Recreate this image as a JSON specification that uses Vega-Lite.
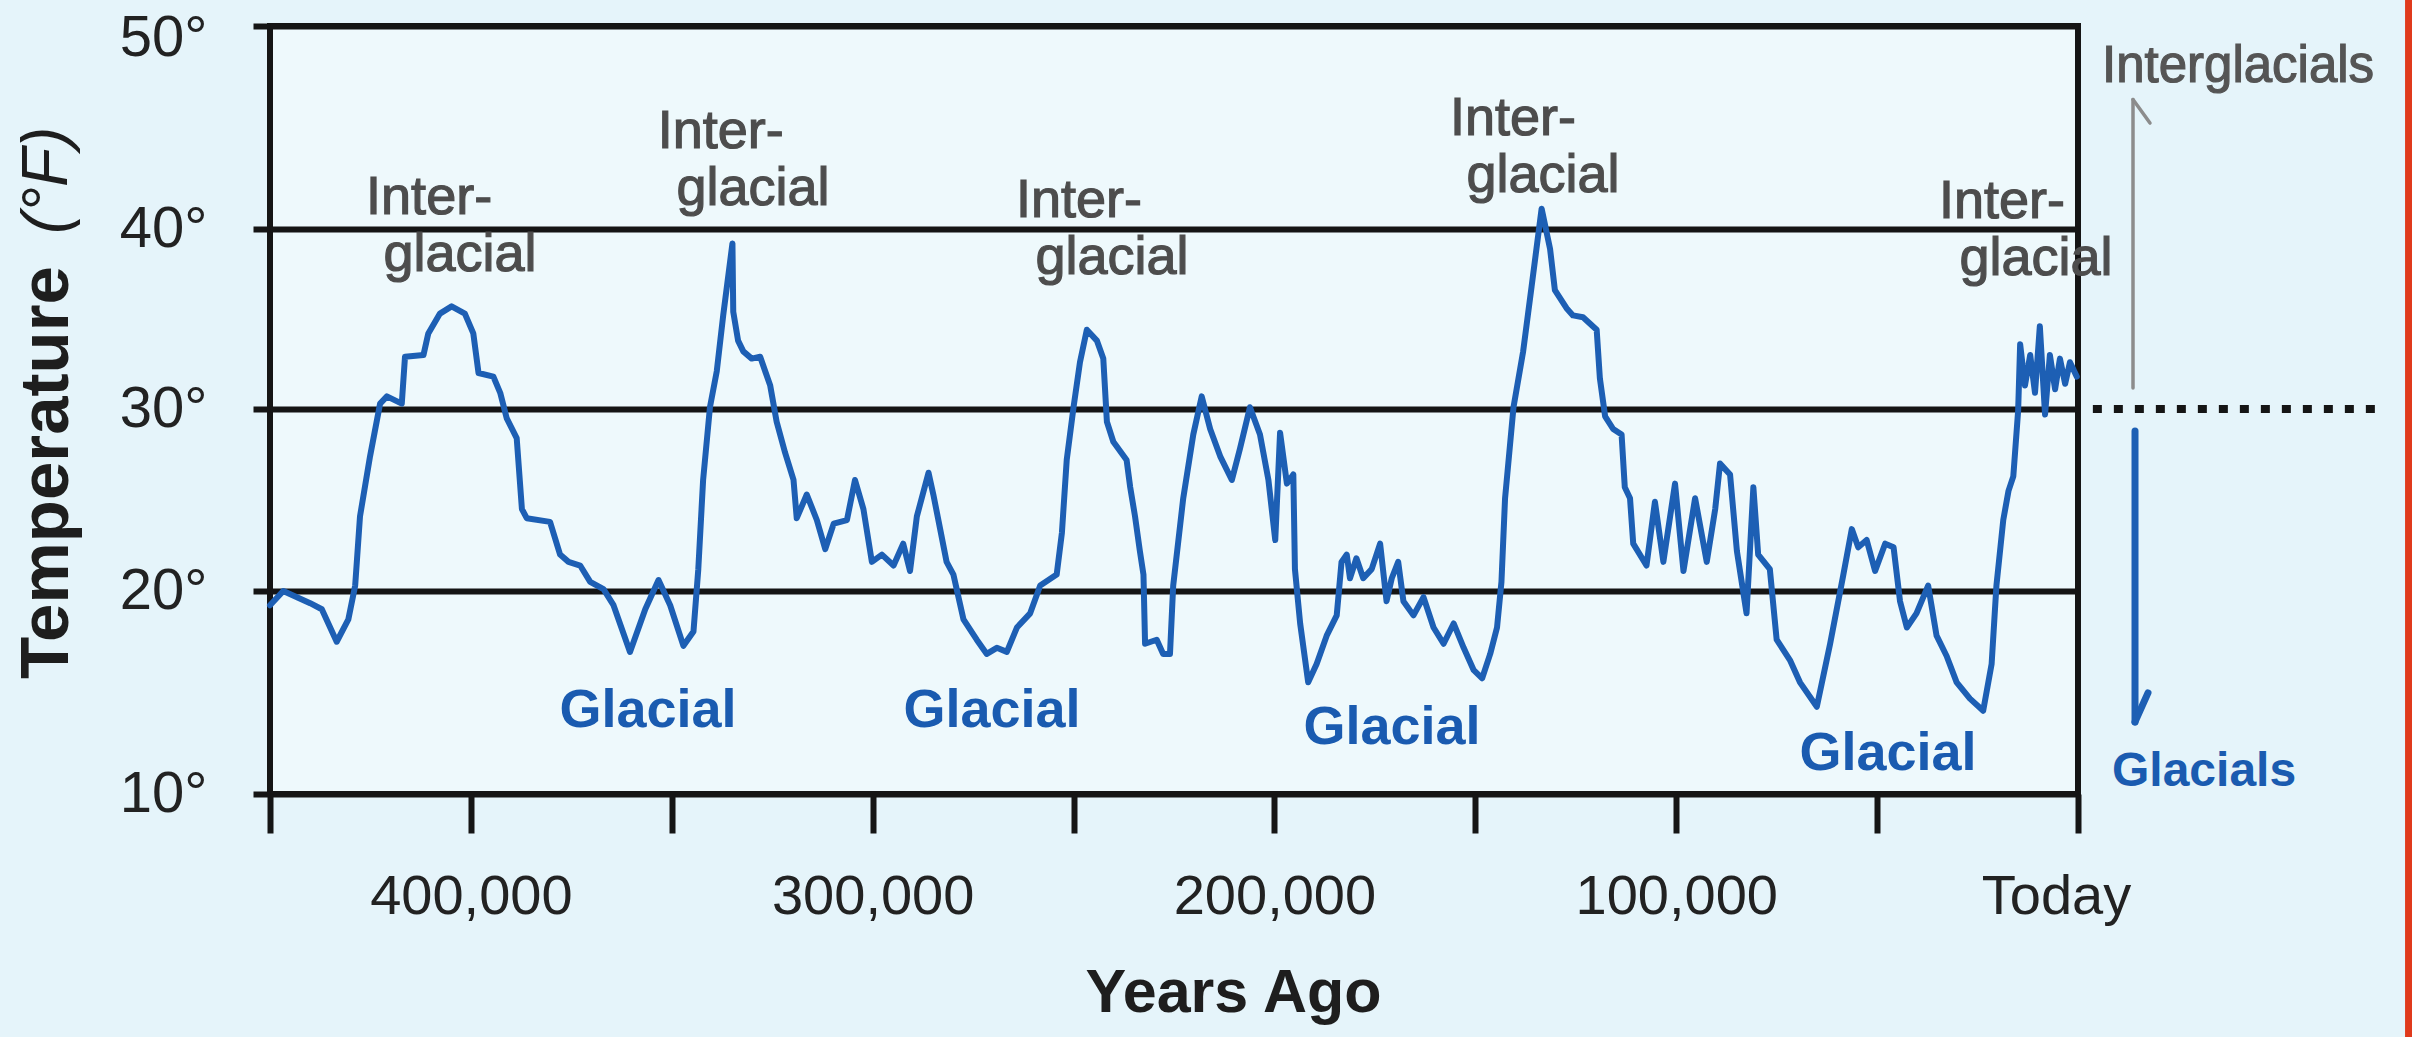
{
  "$schema": "https://vega.github.io/schema/vega-lite/v6.json",
  "autosize": {"type": "none"},
  "width": 1808,
  "height": 768,
  "padding": {"left": 270, "top": 26, "right": 334, "bottom": 243},
  "background": "#e5f4fa",
  "config": {
    "view": {"stroke": "#151515", "strokeWidth": 6, "fill": "#eef9fc"},
    "font": "Liberation Sans"
  },
  "datasets": {
    "temps": [
      {"ya":450000,"t":19.3},{"ya":446700,"t":20.0},{"ya":440000,"t":19.4},{"ya":437100,"t":19.1},{"ya":433400,"t":17.5},{"ya":430500,"t":18.6},{"ya":428800,"t":20.3},{"ya":427600,"t":24.1},{"ya":425100,"t":27.4},{"ya":422600,"t":30.3},{"ya":420900,"t":30.7},{"ya":417200,"t":30.3},{"ya":416400,"t":32.9},{"ya":411800,"t":33.0},{"ya":410600,"t":34.2},{"ya":407700,"t":35.3},{"ya":404800,"t":35.7},{"ya":401500,"t":35.3},{"ya":399400,"t":34.2},{"ya":398100,"t":32.0},{"ya":394400,"t":31.8},{"ya":392700,"t":30.9},{"ya":391100,"t":29.5},{"ya":388600,"t":28.4},{"ya":387300,"t":24.5},{"ya":386100,"t":24.0},{"ya":380300,"t":23.8},{"ya":377800,"t":22.0},{"ya":375700,"t":21.6},{"ya":372800,"t":21.4},
      {"ya":370300,"t":20.5},{"ya":367000,"t":20.1},{"ya":364500,"t":19.3},{"ya":360400,"t":17.0},{"ya":356600,"t":19.1},{"ya":353300,"t":20.6},{"ya":350400,"t":19.3},{"ya":347100,"t":17.3},{"ya":344600,"t":18.0},{"ya":343400,"t":21.2},{"ya":342200,"t":26.1},{"ya":340500,"t":30.1},{"ya":338800,"t":32.1},{"ya":337200,"t":35.2},{"ya":334900,"t":39.2},{"ya":334700,"t":35.4},{"ya":333500,"t":33.8},{"ya":332200,"t":33.2},{"ya":330100,"t":32.8},{"ya":328000,"t":32.9},{"ya":325500,"t":31.3},{"ya":323900,"t":29.3},{"ya":321800,"t":27.6},{"ya":319700,"t":26.1},{"ya":318900,"t":24.0},{"ya":316400,"t":25.3},{"ya":313900,"t":23.9},{"ya":311800,"t":22.3},{"ya":309700,"t":23.7},{"ya":306400,"t":23.9},{"ya":304400,"t":26.1},{"ya":302300,"t":24.5},{"ya":300200,"t":21.6},{"ya":297700,"t":22.0},
      {"ya":294800,"t":21.4},{"ya":292400,"t":22.6},{"ya":290700,"t":21.1},{"ya":289000,"t":24.1},{"ya":286100,"t":26.5},{"ya":284900,"t":25.3},{"ya":283200,"t":23.4},{"ya":281600,"t":21.6},{"ya":279900,"t":20.9},{"ya":277400,"t":18.6},{"ya":274100,"t":17.6},{"ya":271600,"t":16.9},{"ya":269100,"t":17.2},{"ya":266600,"t":17.0},{"ya":264100,"t":18.2},{"ya":260800,"t":18.9},{"ya":258300,"t":20.3},{"ya":254200,"t":20.9},{"ya":252900,"t":23.2},{"ya":251700,"t":27.2},{"ya":250000,"t":30.1},{"ya":248400,"t":32.6},{"ya":246700,"t":34.4},{"ya":244200,"t":33.8},{"ya":242600,"t":32.8},{"ya":241700,"t":29.3},{"ya":240100,"t":28.2},{"ya":236800,"t":27.2},{"ya":235900,"t":25.7},{"ya":234700,"t":24.1},{"ya":233500,"t":22.2},{"ya":232600,"t":20.9},{"ya":232200,"t":17.4},{"ya":229300,"t":17.6},{"ya":227700,"t":16.9},{"ya":226000,"t":16.9},{"ya":225200,"t":20.3},{"ya":222700,"t":25.1},{"ya":220200,"t":28.6},
      {"ya":218100,"t":30.7},{"ya":216000,"t":28.9},{"ya":213500,"t":27.4},{"ya":210600,"t":26.1},{"ya":208600,"t":27.8},{"ya":206100,"t":30.1},{"ya":203600,"t":28.6},{"ya":201500,"t":26.1},{"ya":199800,"t":22.8},{"ya":198600,"t":28.7},{"ya":196900,"t":25.9},{"ya":195300,"t":26.4},{"ya":194900,"t":21.2},{"ya":193600,"t":18.4},{"ya":191600,"t":15.5},{"ya":189500,"t":16.4},{"ya":187000,"t":17.8},{"ya":184500,"t":18.8},{"ya":183300,"t":21.6},{"ya":182000,"t":22.0},{"ya":181200,"t":20.7},{"ya":179600,"t":21.8},{"ya":177900,"t":20.7},{"ya":175800,"t":21.2},{"ya":173700,"t":22.6},{"ya":172100,"t":19.5},{"ya":170800,"t":20.7},{"ya":169200,"t":21.6},{"ya":167900,"t":19.5},{"ya":165400,"t":18.8},{"ya":162900,"t":19.7},{"ya":160400,"t":18.2},{"ya":157900,"t":17.4},{"ya":155400,"t":18.4},{"ya":152900,"t":17.2},{"ya":150400,"t":16.1},{"ya":148300,"t":15.7},{"ya":146300,"t":16.9},{"ya":144600,"t":18.2},{"ya":143500,"t":20.5},
      {"ya":142600,"t":25.1},{"ya":140500,"t":30.1},{"ya":138100,"t":33.2},{"ya":136000,"t":36.8},{"ya":133500,"t":41.0},{"ya":131400,"t":38.9},{"ya":130200,"t":36.6},{"ya":127300,"t":35.6},{"ya":125700,"t":35.2},{"ya":123200,"t":35.1},{"ya":119800,"t":34.4},{"ya":119000,"t":31.7},{"ya":117700,"t":29.6},{"ya":115700,"t":28.9},{"ya":113600,"t":28.6},{"ya":112800,"t":25.7},{"ya":111500,"t":25.1},{"ya":110700,"t":22.6},{"ya":107400,"t":21.4},{"ya":105300,"t":24.9},{"ya":103200,"t":21.6},{"ya":100300,"t":25.9},{"ya":98200,"t":21.1},{"ya":95300,"t":25.1},{"ya":92400,"t":21.6},{"ya":90300,"t":24.5},{"ya":89100,"t":27.0},{"ya":86600,"t":26.4},{"ya":84900,"t":22.2},{"ya":82500,"t":18.9},{"ya":80800,"t":25.7},{"ya":79600,"t":22.0},{"ya":76700,"t":21.2},{"ya":75000,"t":17.6},{"ya":71700,"t":16.6},{"ya":69200,"t":15.5},
      {"ya":65000,"t":14.3},{"ya":61700,"t":17.4},{"ya":58400,"t":20.9},{"ya":56300,"t":23.4},{"ya":54700,"t":22.4},{"ya":52600,"t":22.8},{"ya":50500,"t":21.1},{"ya":48000,"t":22.6},{"ya":45900,"t":22.4},{"ya":44300,"t":19.5},{"ya":42600,"t":18.2},{"ya":40200,"t":18.9},{"ya":37300,"t":20.3},{"ya":35200,"t":17.8},{"ya":32700,"t":16.8},{"ya":30200,"t":15.5},{"ya":26900,"t":14.7},{"ya":23600,"t":14.1},{"ya":21500,"t":16.4},{"ya":20300,"t":20.3},{"ya":18600,"t":23.9},{"ya":17300,"t":25.5},{"ya":16100,"t":26.3},{"ya":14900,"t":29.9},{"ya":14400,"t":33.6},{"ya":13200,"t":31.3},{"ya":11900,"t":33.0},{"ya":10700,"t":30.9},{"ya":9500,"t":34.6},{"ya":8200,"t":29.7},{"ya":7000,"t":33.0},{"ya":5700,"t":31.1},{"ya":4500,"t":32.8},{"ya":3200,"t":31.4},{"ya":2000,"t":32.6},{"ya":300,"t":31.8}
    ],
    "inter": [
      {"ya":410400,"t":40.75,"text":"Inter-"},{"ya":402700,"t":37.68,"text":"glacial"},
      {"ya":337800,"t":44.0,"text":"Inter-"},{"ya":329800,"t":41.18,"text":"glacial"},
      {"ya":248650,"t":40.6,"text":"Inter-"},{"ya":240440,"t":37.52,"text":"glacial"},
      {"ya":140630,"t":44.64,"text":"Inter-"},{"ya":133160,"t":41.82,"text":"glacial"},
      {"ya":18920,"t":40.55,"text":"Inter-"},{"ya":10450,"t":37.46,"text":"glacial"}
    ],
    "glacial": [
      {"ya":355930,"t":13.3,"text":"Glacial"},
      {"ya":270310,"t":13.3,"text":"Glacial"},
      {"ya":170750,"t":12.46,"text":"Glacial"},
      {"ya":47290,"t":11.18,"text":"Glacial"}
    ],
    "side": [
      {"ya":-5970,"t":47.24,"text":"Interglacials","kind":"inter"},
      {"ya":-8460,"t":10.39,"text":"Glacials","kind":"glacial"}
    ],
    "unit": [
      {"ya":500540,"t":42.4,"text":"(°F)"}
    ],
    "arrows": [
      {"kind":"up","ya":-13690,"ya2":-13690,"t":31.17,"t2":46.38},
      {"kind":"up","ya":-13690,"ya2":-17920,"t":46.38,"t2":45.22},
      {"kind":"down","ya":-14190,"ya2":-14190,"t":28.79,"t2":13.55},
      {"kind":"down","ya":-14190,"ya2":-17420,"t":13.55,"t2":14.98},
      {"kind":"dots","ya":-3700,"ya2":-75700,"t":30,"t2":30}
    ],
    "strip": [
      {"ya":-81400,"ya2":-95000,"t":-3,"t2":52}
    ]
  },
  "encoding": {
    "x": {
      "field": "ya", "type": "quantitative",
      "scale": {"domain": [450000, 0], "nice": false, "zero": false},
      "axis": {
        "values": [450000,400000,350000,300000,250000,200000,150000,100000,50000,0],
        "labelExpr": "datum.value == 0 ? 'Today' : (datum.value % 100000 == 0 ? format(datum.value, ',') : '')",
        "grid": false,
        "domain": false,
        "ticks": true, "tickSize": 39, "tickWidth": 6, "tickColor": "#151515",
        "labelFont": "Liberation Sans", "labelFontSize": 56, "labelColor": "#222222",
        "labelPadding": 36, "labelOverlap": false, "labelFlush": false, "labelLimit": 500,
        "labelOffset": {"condition": {"test": "datum.value == 0", "value": -22}, "value": 0},
        "title": "Years Ago",
        "titleFont": "Liberation Sans", "titleFontSize": 61, "titleFontWeight": "bold", "titleColor": "#1e1e1e",
        "titleX": 963, "titleY": 217, "titleAlign": "center", "titleBaseline": "alphabetic"
      }
    },
    "y": {
      "field": "t", "type": "quantitative",
      "scale": {"domain": [10, 20, 30, 40, 50], "range": [768, 565, 383, 203, 0], "nice": false, "zero": false},
      "axis": {
        "values": [10, 20, 30, 40, 50],
        "labelExpr": "datum.value + '°'",
        "grid": true, "gridColor": "#151515", "gridWidth": 6, "gridOpacity": 1,
        "domain": false,
        "ticks": true, "tickSize": 17, "tickWidth": 6, "tickColor": "#151515",
        "labelFont": "Liberation Sans", "labelFontSize": 58, "labelColor": "#222222",
        "labelPadding": 46, "labelLimit": 300,
        "labelOffset": {"condition": {"test": "datum.value == 50", "value": 12}, "value": 0},
        "title": "Temperature",
        "titleFont": "Liberation Sans", "titleFontSize": 69, "titleFontWeight": "bold", "titleColor": "#1e1e1e",
        "titleAngle": 270, "titleX": -203, "titleY": 446, "titleAlign": "center", "titleBaseline": "alphabetic", "titleLimit": 800
      }
    }
  },
  "layer": [
    {
      "data": {"name": "strip"},
      "mark": {"type": "rect", "color": "#e03a1c"},
      "encoding": {
        "x2": {"field": "ya2"},
        "y2": {"field": "t2"}
      }
    },
    {
      "data": {"name": "temps"},
      "mark": {"type": "line", "color": "#1d5fb4", "strokeWidth": 6, "strokeJoin": "round", "strokeCap": "round"}
    },
    {
      "data": {"name": "arrows"},
      "transform": [{"filter": "datum.kind == 'up'"}],
      "mark": {"type": "rule", "color": "#8c8c8c", "strokeWidth": 3.5, "strokeCap": "round"},
      "encoding": {"x2": {"field": "ya2"}, "y2": {"field": "t2"}}
    },
    {
      "data": {"name": "arrows"},
      "transform": [{"filter": "datum.kind == 'down'"}],
      "mark": {"type": "rule", "color": "#1d5fb4", "strokeWidth": 7, "strokeCap": "round"},
      "encoding": {"x2": {"field": "ya2"}, "y2": {"field": "t2"}}
    },
    {
      "data": {"name": "arrows"},
      "transform": [{"filter": "datum.kind == 'dots'"}],
      "mark": {"type": "rule", "color": "#151515", "strokeWidth": 8, "strokeDash": [9, 12]},
      "encoding": {"x2": {"field": "ya2"}, "y2": {"field": "t2"}}
    },
    {
      "data": {"name": "unit"},
      "mark": {"type": "text", "font": "Liberation Sans", "fontSize": 64, "fontStyle": "italic", "color": "#1e1e1e", "angle": 270, "align": "center", "baseline": "alphabetic"},
      "encoding": {"text": {"field": "text"}}
    },
    {
      "data": {"name": "inter"},
      "mark": {"type": "text", "font": "Liberation Sans", "fontSize": 54, "color": "#4d4d4d", "stroke": "#4d4d4d", "strokeWidth": 1.2, "align": "center", "baseline": "alphabetic"},
      "encoding": {"text": {"field": "text"}}
    },
    {
      "data": {"name": "glacial"},
      "mark": {"type": "text", "font": "Liberation Sans", "fontSize": 54, "fontWeight": "bold", "color": "#1a5bb0", "align": "center", "baseline": "alphabetic"},
      "encoding": {"text": {"field": "text"}}
    },
    {
      "data": {"name": "side"},
      "transform": [{"filter": "datum.kind == 'inter'"}],
      "mark": {"type": "text", "font": "Liberation Sans", "fontSize": 51, "color": "#555555", "stroke": "#555555", "strokeWidth": 1.2, "align": "left", "baseline": "alphabetic"},
      "encoding": {"text": {"field": "text"}}
    },
    {
      "data": {"name": "side"},
      "transform": [{"filter": "datum.kind == 'glacial'"}],
      "mark": {"type": "text", "font": "Liberation Sans", "fontSize": 48, "fontWeight": "bold", "color": "#1a5bb0", "align": "left", "baseline": "alphabetic"},
      "encoding": {"text": {"field": "text"}}
    }
  ]
}
